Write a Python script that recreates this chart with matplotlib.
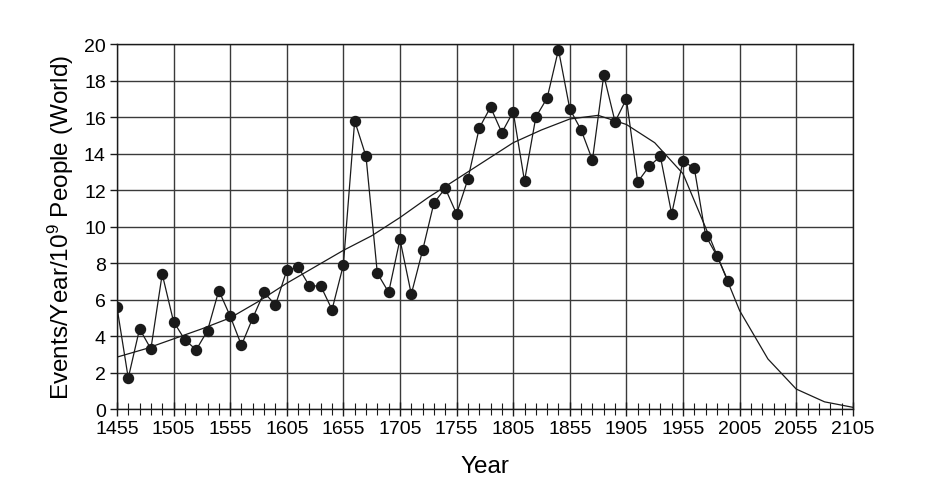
import numpy as np
from matplotlib import pyplot as plt
from matplotlib.ticker import MultipleLocator

plt.rcParams['font.family'] = ['Liberation Sans', 'DejaVu Sans']
plt.rcParams['mathtext.fontset'] = 'custom'
plt.rcParams['mathtext.rm'] = 'Liberation Sans'
plt.rcParams['mathtext.it'] = 'Liberation Sans'

# observed events, one point per decade
years = np.arange(1455, 2000, 10)
events = [5.6, 1.7, 4.4, 3.3, 7.4, 4.8, 3.8, 3.25, 4.3, 6.5,
          5.1, 3.5, 5.0, 6.4, 5.7, 7.6, 7.8, 6.75, 6.75, 5.45,
          7.9, 15.8, 13.85, 7.45, 6.4, 9.3, 6.3, 8.7, 11.3, 12.1,
          10.7, 12.6, 15.4, 16.55, 15.15, 16.3, 12.5, 16.0, 17.05, 19.7,
          16.45, 15.3, 13.65, 18.3, 15.75, 17.0, 12.45, 13.3, 13.85, 10.7,
          13.6, 13.2, 9.5, 8.4, 7.0]

# fitted trend curve, read every 25 years
fit_years = np.arange(1455, 2106, 25)
fit_values = [2.85, 3.3, 3.85, 4.4, 5.0, 5.9, 6.9, 7.8, 8.7, 9.5,
              10.5, 11.6, 12.6, 13.6, 14.6, 15.3, 15.9, 16.1, 15.6, 14.6,
              12.9, 9.2, 5.4, 2.75, 1.1, 0.4, 0.1]

fig = plt.figure(figsize=(9.28, 5.02), dpi=100)
ax = fig.add_axes([0.126, 0.183, 0.793, 0.727])

ax.plot(fit_years, fit_values, color='#1a1a1a', lw=0.9, zorder=3)
ax.plot(years, events, color='#1a1a1a', lw=0.9, marker='o', ms=7.2,
        mfc='#1a1a1a', mec='#1a1a1a', zorder=4)

ax.set_xlim(1455, 2105)
ax.set_ylim(0, 20)
ax.xaxis.set_major_locator(MultipleLocator(50, offset=5))
ax.xaxis.set_minor_locator(MultipleLocator(10, offset=5))
ax.yaxis.set_major_locator(MultipleLocator(2))

ax.grid(True, which='major', color='#3a3a3a', lw=1.0)
for s in ax.spines.values():
    s.set_color('#1a1a1a')
    s.set_linewidth(1.0)

ax.tick_params(axis='x', which='major', direction='inout', length=10,
               width=1.0, labelsize=14, pad=3, color='#1a1a1a')
ax.tick_params(axis='x', which='minor', direction='inout', length=8,
               width=0.8, color='#1a1a1a')
ax.tick_params(axis='y', which='major', direction='out', length=5,
               width=1.0, labelsize=14, pad=3, color='#1a1a1a')

ax.set_xlabel('Year', fontsize=17.5, labelpad=13)
ax.set_ylabel('Events/Year/10$^9$ People (World)', fontsize=17.5, labelpad=6)

fig.savefig('out.png', dpi=100)
